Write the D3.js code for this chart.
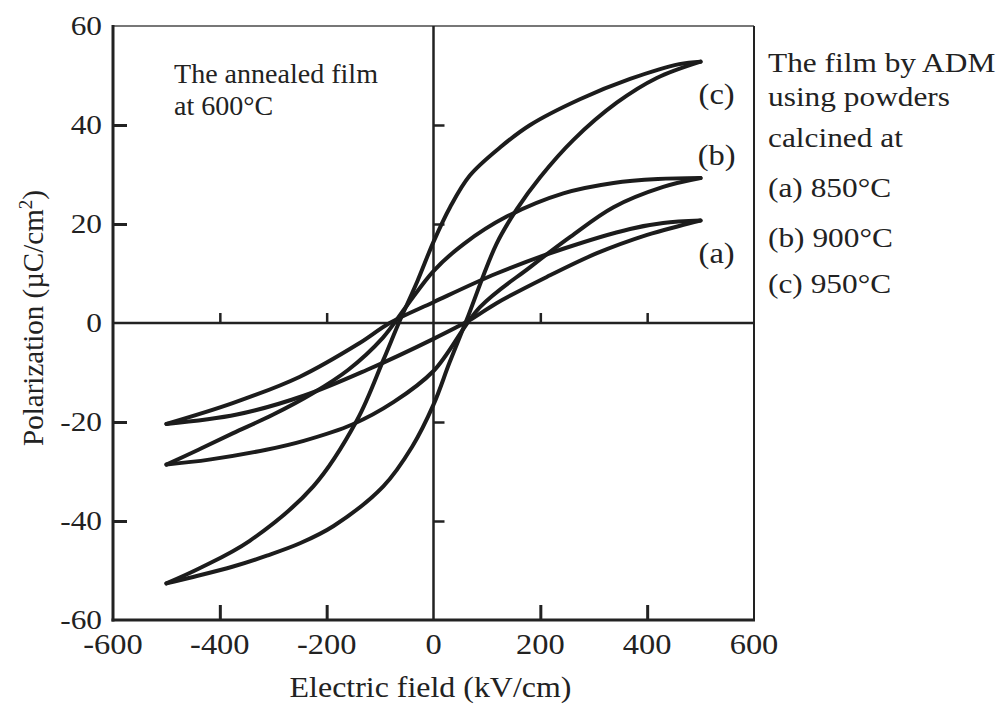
<!DOCTYPE html>
<html>
<head>
<meta charset="utf-8">
<script src="https://cdn.jsdelivr.net/npm/d3@7"></script>
<style>
  body { margin: 0; background: #fff; }
  text { font-family: "Liberation Serif", "Times New Roman", serif; fill: #222; }
</style>
</head>
<body>
<div id="chart"></div>
<script>
// tick values
const xTicks = [-600, -400, -200, 0, 200, 400, 600];
const yTicks = [-60, -40, -20, 0, 20, 40, 60];

// loop (a) 850C : [E (kV/cm), P (uC/cm2)]
const loopA_desc = [[500,20.7],[430,20.2],[368,19],[243,15],[118,10],[0,4.2],[-82,0],[-139,-4.1],[-251,-10.9],[-376,-16.2],[-500,-20.4]];
const loopA_asc = [[-500,-20.4],[-368,-18.5],[-243,-14.7],[-125,-9.5],[0,-3.2],[68,0.6],[118,4],[212,9.3],[306,14.1],[400,17.8],[460,19.6],[500,20.7]];
// loop (b) 900C
const loopB_desc = [[500,29.3],[420,29.1],[337,28.3],[243,26.2],[137,21.5],[57,16],[0,10.5],[-50,3.5],[-95,-3],[-160,-9.5],[-226,-14.2],[-300,-18.5],[-376,-22.3],[-440,-25.6],[-500,-28.6]];
const loopB_asc = [[-500,-28.6],[-420,-27.6],[-313,-25.6],[-243,-23.8],[-152,-20.5],[-75,-16],[0,-9.7],[87,3.2],[181,11.3],[256,17.4],[337,23.4],[430,27.5],[500,29.3]];
// loop (c) 950C
const loopC_desc = [[500,52.8],[460,52.3],[368,49.3],[274,45.2],[181,40],[125,35.5],[68,29.8],[31,23.4],[0,16.4],[-30,8.5],[-65,0],[-94,-7.5],[-143,-19.6],[-225,-33],[-344,-44],[-437,-49.5],[-500,-52.6]];
const loopC_asc = [[-500,-52.6],[-450,-51.3],[-375,-49.2],[-312,-47],[-250,-44.5],[-187,-41],[-94,-33],[-40,-25],[0,-16.5],[30,-8],[62,0.6],[118,16],[156,23],[200,29.5],[262,37],[343,44.5],[418,49.5],[500,52.8]];

const loops = [loopA_desc, loopA_asc, loopB_desc, loopB_asc, loopC_desc, loopC_asc];

const curveLabels = ["(c)", "(b)", "(a)"];
const curveLabelY = [46, 33.7, 14];
const legendLines = ["The film by ADM", "using powders", "calcined at", "(a) 850\u00b0C", "(b) 900\u00b0C", "(c) 950\u00b0C"];
const noteLines = ["The annealed film", "at 600\u00b0C"];

const W = 1000, H = 711;
const mLeft = 113, mRight = 754, mTop = 26, mBottom = 620;
const sx = 1.12;  // text looks stretched sideways in the original

const svg = d3.select("#chart").append("svg").attr("width", W).attr("height", H);

const x = d3.scaleLinear().domain([-600, 600]).range([mLeft, mRight]);
const y = d3.scaleLinear().domain([-60, 60]).range([mBottom, mTop]);

// frame
svg.append("line").attr("x1", mLeft).attr("x2", mRight).attr("y1", mTop).attr("y2", mTop)
  .attr("stroke", "#777").attr("stroke-width", 2);
svg.append("line").attr("x1", mRight).attr("x2", mRight).attr("y1", mTop).attr("y2", mBottom)
  .attr("stroke", "#222").attr("stroke-width", 2);

// left axis, inward ticks
const yAxis = d3.axisRight(y).tickValues([-40, -20, 20, 40]).tickSize(14).tickFormat("");
svg.append("g").attr("transform", `translate(${mLeft},0)`).call(yAxis)
  .call(g => g.select(".domain").remove())
  .selectAll("line").attr("stroke", "#222").attr("stroke-width", 3);
svg.append("line").attr("x1", mLeft).attr("x2", mLeft).attr("y1", mTop - 1).attr("y2", mBottom + 1.5)
  .attr("stroke", "#222").attr("stroke-width", 3);

// bottom axis, inward ticks
const xAxis = d3.axisTop(x).tickValues([-400, -200, 200, 400]).tickSize(15).tickFormat("");
svg.append("g").attr("transform", `translate(0,${mBottom})`).call(xAxis)
  .call(g => g.select(".domain").remove())
  .selectAll("line").attr("stroke", "#222").attr("stroke-width", 3);
svg.append("line").attr("x1", mLeft - 1.5).attr("x2", mRight + 1).attr("y1", mBottom).attr("y2", mBottom)
  .attr("stroke", "#222").attr("stroke-width", 3);

// center cross axes
const cx = d3.axisRight(y).tickValues([-40, -20, 20, 40]).tickSize(11).tickFormat("");
svg.append("g").attr("transform", `translate(${x(0)},0)`).call(cx)
  .call(g => g.select(".domain").remove())
  .selectAll("line").attr("stroke", "#222").attr("stroke-width", 2.5);
svg.append("line").attr("x1", x(0)).attr("x2", x(0)).attr("y1", mTop).attr("y2", mBottom)
  .attr("stroke", "#222").attr("stroke-width", 2.5);
const cy = d3.axisTop(x).tickValues([-400, -200, 200, 400]).tickSize(10).tickFormat("");
svg.append("g").attr("transform", `translate(0,${y(0)})`).call(cy)
  .call(g => g.select(".domain").remove())
  .selectAll("line").attr("stroke", "#222").attr("stroke-width", 2.5);
svg.append("line").attr("x1", mLeft).attr("x2", mRight).attr("y1", y(0)).attr("y2", y(0))
  .attr("stroke", "#222").attr("stroke-width", 2.5);

// tick labels
svg.selectAll(".ylab").data(yTicks).enter().append("text")
  .attr("transform", d => `translate(${mLeft - 11},${y(d) + 9}) scale(${sx},1)`)
  .attr("text-anchor", "end").style("font-size", "28px").text(d => d);
svg.selectAll(".xlab").data(xTicks).enter().append("text")
  .attr("transform", d => `translate(${x(d)},${mBottom + 34}) scale(${sx},1)`)
  .attr("text-anchor", "middle").style("font-size", "29px").text(d => d);

// axis titles
svg.append("text").attr("transform", `translate(${(mLeft + mRight) / 2 - 3},${697}) scale(${sx},1)`)
  .attr("text-anchor", "middle").style("font-size", "28.5px").text("Electric field (kV/cm)");
const yt = svg.append("text").attr("transform", `translate(43,${y(0) - 5}) rotate(-90)`)
  .attr("text-anchor", "middle").style("font-size", "29px");
yt.append("tspan").text("Polarization (\u00b5C/cm");
yt.append("tspan").attr("dy", -11).style("font-size", "19px").text("2");
yt.append("tspan").attr("dy", 11).text(")");

// hysteresis loops
const line = d3.line().x(d => x(d[0])).y(d => y(d[1])).curve(d3.curveCatmullRom);
svg.selectAll(".loop").data(loops).enter().append("path")
  .attr("d", line).attr("fill", "none").attr("stroke", "#1c1c1c")
  .attr("stroke-width", 4).attr("stroke-linejoin", "round").attr("stroke-linecap", "round");

// curve labels
svg.selectAll(".clab").data(curveLabels).enter().append("text")
  .attr("transform", (d, i) => `translate(${x(530)},${y(curveLabelY[i]) + 9}) scale(${sx},1)`)
  .attr("text-anchor", "middle").style("font-size", "29px").text(d => d);

// annotations
const noteY = [83, 115];
svg.selectAll(".note").data(noteLines).enter().append("text")
  .attr("transform", (d, i) => `translate(174,${noteY[i]}) scale(1.02,1)`)
  .style("font-size", "27.5px").text(d => d);
const legY = [72, 106, 147, 197, 247, 293];
svg.selectAll(".leg").data(legendLines).enter().append("text")
  .attr("transform", (d, i) => `translate(768,${legY[i]}) scale(${sx},1)`)
  .style("font-size", "28px").text(d => d);
</script>
</body>
</html>
